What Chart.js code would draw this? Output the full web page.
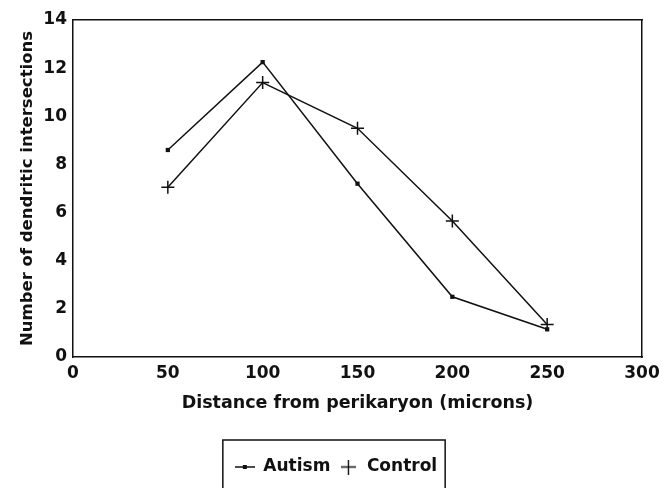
<!DOCTYPE html>
<html>
<head>
<meta charset="utf-8">
<script src="https://cdn.jsdelivr.net/npm/chart.js@4/dist/chart.umd.min.js"></script>
<style>
  html, body { margin: 0; padding: 0; background: #fff; }
  #wrap { width: 672px; height: 488px; position: relative; }
</style>
</head>
<body>
<div id="wrap"><canvas id="chart"></canvas></div>
<script>
// values
const distances = [50, 100, 150, 200, 250];
const autism = [8.6, 12.25, 7.2, 2.5, 1.15];
const control = [7.05, 11.4, 9.5, 5.65, 1.35];
const seriesNames = ['Autism', 'Control'];
const xTicks = [0, 50, 100, 150, 200, 250, 300];
const yTicks = [0, 2, 4, 6, 8, 10, 12, 14];

const ink = '#111';
const fontName = "'DejaVu Sans', sans-serif";

// small pictures for the legend markers
function autismIcon() {
    const c = document.createElement('canvas');
    c.width = 20; c.height = 10;
    const g = c.getContext('2d');
    g.strokeStyle = ink; g.lineWidth = 1.5;
    g.beginPath(); g.moveTo(0, 5); g.lineTo(20, 5); g.stroke();
    g.fillStyle = ink; g.fillRect(8, 3, 4, 4);
    return c;
}
function controlIcon() {
    const c = document.createElement('canvas');
    c.width = 15; c.height = 15;
    const g = c.getContext('2d');
    g.strokeStyle = ink; g.lineWidth = 1.4;
    g.beginPath();
    g.moveTo(0, 7.5); g.lineTo(15, 7.5);
    g.moveTo(7.5, 0); g.lineTo(7.5, 15);
    g.stroke();
    return c;
}
const icons = [autismIcon(), controlIcon()];

function toPoints(ys) {
    return distances.map((d, i) => ({x: d, y: ys[i]}));
}

// frame around the legend, open at the bottom like the cropped figure
const legendFrame = {
    id: 'legendFrame',
    afterDraw(chart) {
        const boxes = chart.legend.legendHitBoxes;
        if (!boxes || !boxes.length) return;
        const ctx = chart.ctx;
        const left = boxes[0].left - 12;
        const last = boxes[boxes.length - 1];
        const right = last.left + last.width + 8;
        const top = boxes[0].top - 18.5;
        ctx.save();
        ctx.strokeStyle = ink;
        ctx.lineWidth = 1.5;
        ctx.beginPath();
        ctx.moveTo(left, chart.height + 2);
        ctx.lineTo(left, top);
        ctx.lineTo(right, top);
        ctx.lineTo(right, chart.height + 2);
        ctx.stroke();
        ctx.restore();
    }
};

new Chart(document.getElementById('chart'), {
    type: 'line',
    data: {
        datasets: [{
            label: seriesNames[0],
            data: toPoints(autism),
            borderColor: ink,
            backgroundColor: ink,
            borderWidth: 1.5,
            pointStyle: 'rect',
            pointRadius: 3,
            pointBorderWidth: 0,
            tension: 0
        }, {
            label: seriesNames[1],
            data: toPoints(control),
            borderColor: ink,
            backgroundColor: ink,
            borderWidth: 1.5,
            pointStyle: 'cross',
            pointRadius: 6.5,
            pointBorderWidth: 1.5,
            tension: 0
        }]
    },
    options: {
        responsive: true,
        maintainAspectRatio: false,
        animation: false,
        layout: { padding: { left: 0, right: 0, top: 0, bottom: 2.5 } },
        plugins: {
            tooltip: { enabled: false },
            legend: {
                position: 'bottom',
                labels: {
                    color: ink,
                    font: { family: fontName, size: 17, weight: 'bold' },
                    usePointStyle: true,
                    pointStyleWidth: 20,
                    padding: 8,
                    generateLabels(chart) {
                        return chart.data.datasets.map((ds, i) => ({
                            text: ds.label,
                            pointStyle: icons[i],
                            fillStyle: ink,
                            strokeStyle: ink,
                            lineWidth: 0,
                            fontColor: ink,
                            hidden: false,
                            datasetIndex: i
                        }));
                    }
                }
            }
        },
        scales: {
            x: {
                type: 'linear',
                position: 'bottom',
                min: xTicks[0],
                max: xTicks[xTicks.length - 1],
                afterBuildTicks: s => { s.ticks = xTicks.map(v => ({value: v})); },
                afterFit: s => { s.height = 93.5; },
                grid: { display: false, drawTicks: false },
                border: { display: true, color: ink, width: 1.5 },
                ticks: {
                    color: ink,
                    padding: 6,
                    maxRotation: 0,
                    font: { family: fontName, size: 17, weight: 'bold' }
                },
                title: {
                    display: true,
                    text: 'Distance from perikaryon (microns)',
                    color: ink,
                    font: { family: fontName, size: 17.5, weight: 'bold' },
                    padding: { top: 0, bottom: 36.5 }
                }
            },
            x2: {
                type: 'linear',
                position: 'top',
                min: 0, max: 300,
                afterFit: s => { s.height = 20; },
                grid: { display: false, drawTicks: false },
                border: { display: true, color: ink, width: 1.5 },
                ticks: { display: false }
            },
            y: {
                type: 'linear',
                position: 'left',
                min: yTicks[0],
                max: yTicks[yTicks.length - 1],
                afterBuildTicks: s => { s.ticks = yTicks.map(v => ({value: v})); },
                afterFit: s => { s.width = 73; },
                grid: { display: false, drawTicks: false },
                border: { display: true, color: ink, width: 1.5 },
                ticks: {
                    color: ink,
                    padding: 6,
                    font: { family: fontName, size: 17, weight: 'bold' }
                },
                title: {
                    display: true,
                    text: 'Number of dendritic intersections',
                    color: ink,
                    font: { family: fontName, size: 16.5, weight: 'bold' },
                    padding: { top: 18, bottom: 0 }
                }
            },
            y2: {
                type: 'linear',
                position: 'right',
                min: 0, max: 14,
                afterFit: s => { s.width = 30; },
                grid: { display: false, drawTicks: false },
                border: { display: true, color: ink, width: 1.5 },
                ticks: { display: false }
            }
        }
    },
    plugins: [legendFrame]
});
</script>
</body>
</html>
